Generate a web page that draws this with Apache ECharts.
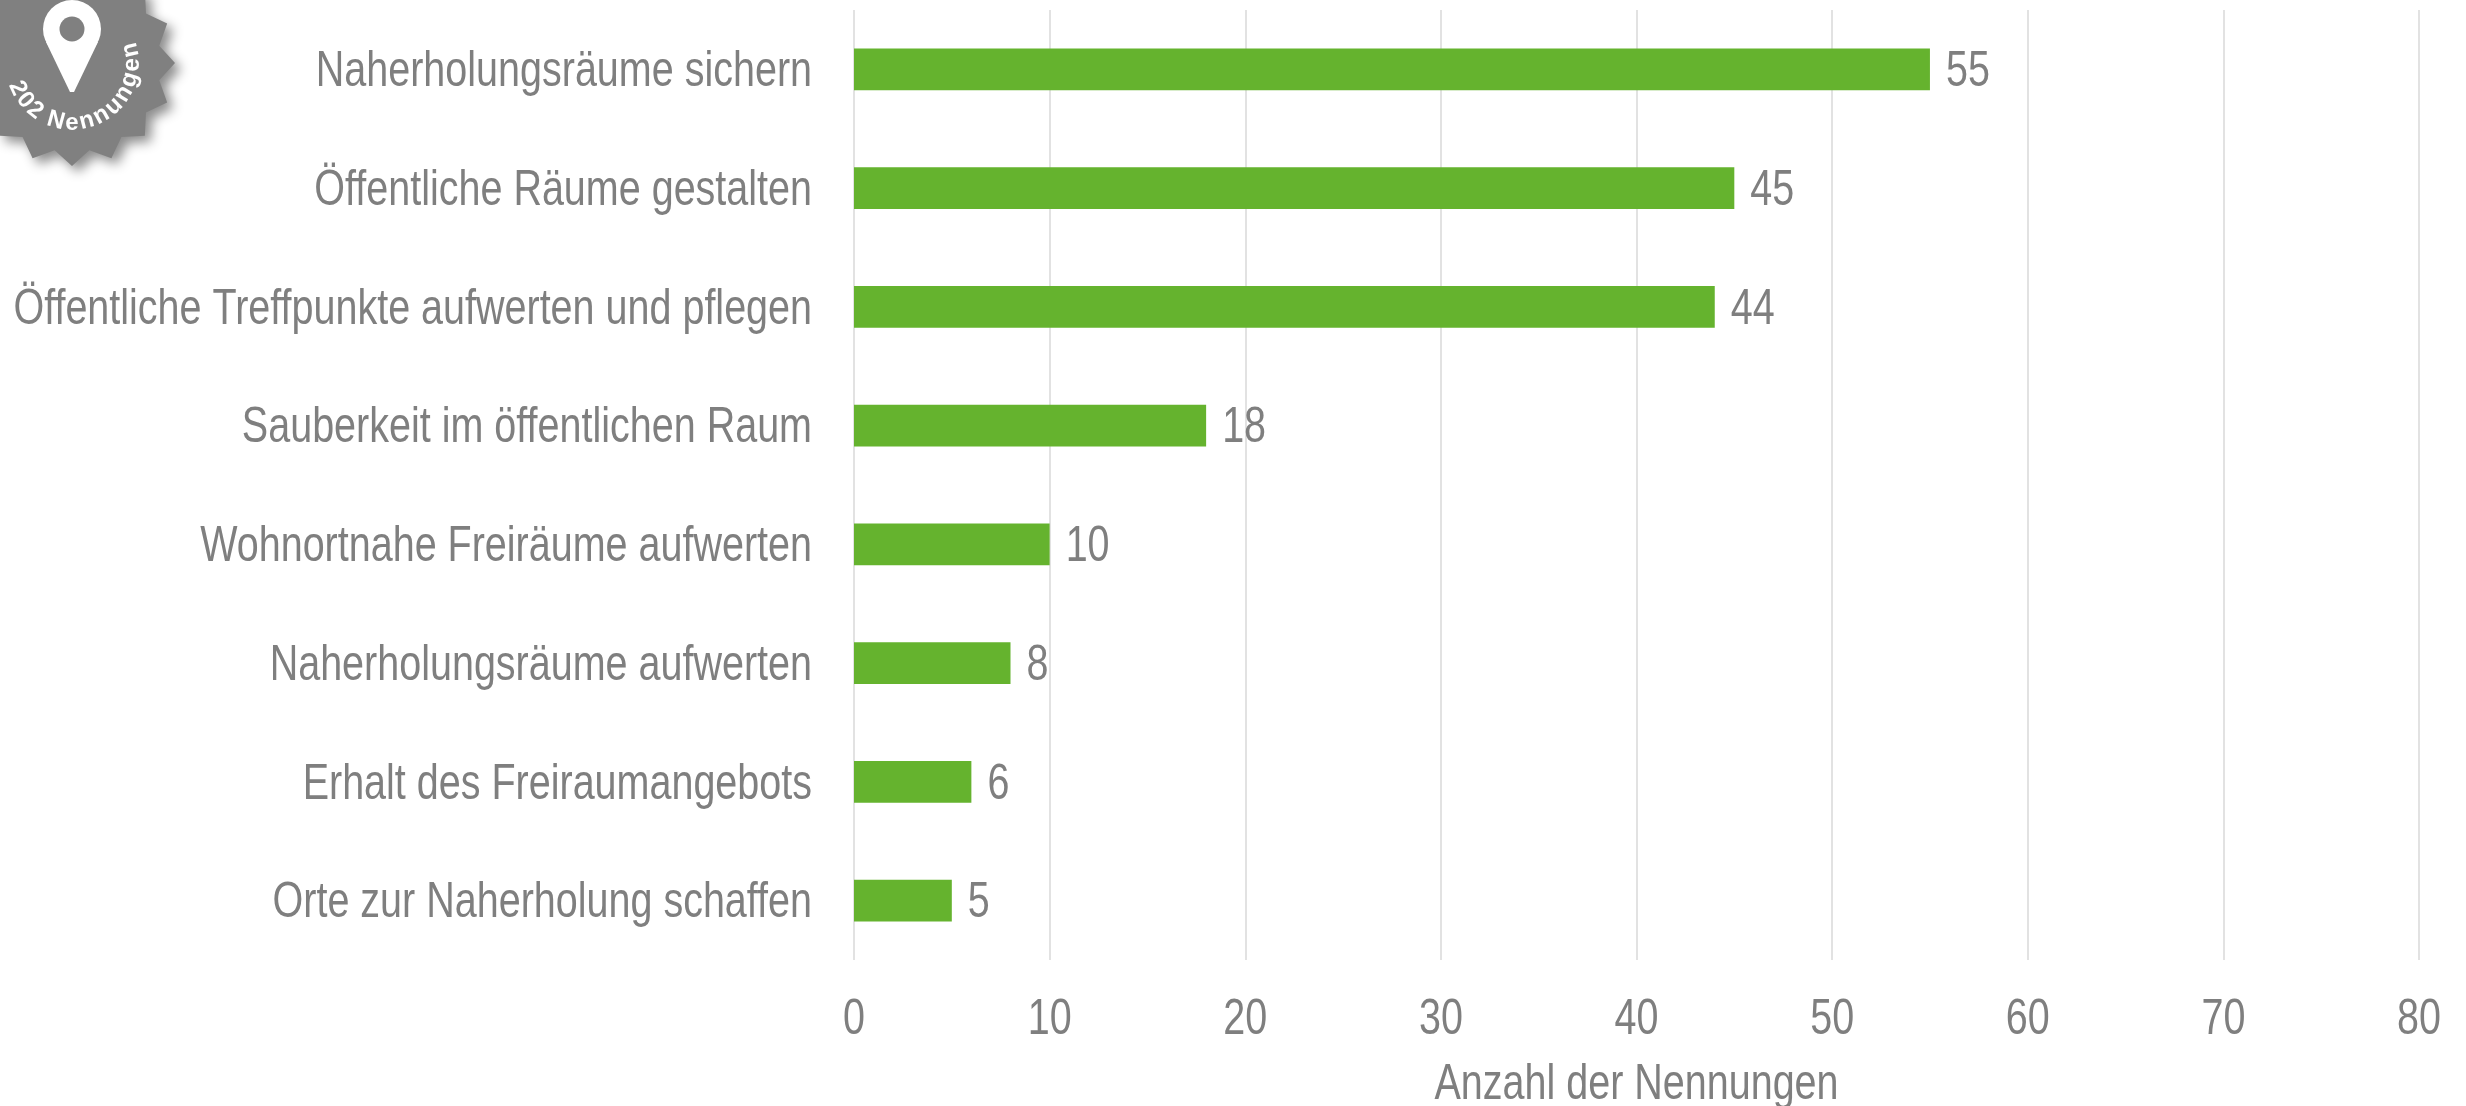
<!DOCTYPE html>
<html>
<head>
<meta charset="utf-8">
<style>
html, body { margin: 0; padding: 0; background: #fff; }
#chart { width: 2466px; height: 1106px; }
</style>
<script src="https://cdn.jsdelivr.net/npm/echarts@6/dist/echarts.min.js"></script>
</head>
<body>
<div id="chart"></div>
<script>
var categories = [
  'Naherholungsräume sichern',
  'Öffentliche Räume gestalten',
  'Öffentliche Treffpunkte aufwerten und pflegen',
  'Sauberkeit im öffentlichen Raum',
  'Wohnortnahe Freiräume aufwerten',
  'Naherholungsräume aufwerten',
  'Erhalt des Freiraumangebots',
  'Orte zur Naherholung schaffen'
]
var values = [55, 45, 44, 18, 10, 8, 6, 5]
var axisName = 'Anzahl der Nennungen'
var badgeText = '202 Nennungen'

var FONT = '"Liberation Sans", sans-serif'
var GREY = '#7f7f7f'
var FONT_SIZE = 50

// die Schrift im Original ist schmal gestaucht, eine Narrow-Schrift gibt es hier nicht
var NARROW = 0.79
var origFillText = CanvasRenderingContext2D.prototype.fillText
CanvasRenderingContext2D.prototype.fillText = function(text, x, y, maxWidth) {
  if (this.font.indexOf('bold') === 0) { // Badge-Text bleibt wie er ist
    origFillText.call(this, text, x, y)
    return
  }
  this.save()
  this.translate(x, y + 3)
  this.scale(NARROW, 1)
  origFillText.call(this, text, 0, 0)
  this.restore()
}

// gezackter Stern oben links
function badgePoints(cx, cy, outer, inner, teeth) {
  var pts = []
  for (var i = 0; i < teeth * 2; i++) {
    var r = i % 2 === 0 ? outer : inner
    var a = i * Math.PI / teeth
    pts.push([cx + r * Math.cos(a), cy + r * Math.sin(a)])
  }
  return pts
}

// Text auf dem Bogen, Buchstabe für Buchstabe
function badgeLetters(cx, cy, radius, startDeg, endDeg) {
  var ctx = document.createElement('canvas').getContext('2d')
  var font = 'bold 24px "Liberation Sans", sans-serif'
  ctx.font = font
  var total = ctx.measureText(badgeText).width
  var out = []
  var done = 0
  for (var i = 0; i < badgeText.length; i++) {
    var w = ctx.measureText(badgeText[i]).width
    var deg = startDeg + (endDeg - startDeg) * (done + w / 2) / total
    var t = deg * Math.PI / 180
    out.push({
      type: 'text',
      x: cx + radius * Math.sin(t),
      y: cy + radius * Math.cos(t),
      rotation: t,
      z: 12,
      style: { text: badgeText[i], fill: '#fff', font: font, align: 'center', verticalAlign: 'middle' }
    })
    done += w
  }
  return out
}

var chart = echarts.init(document.getElementById('chart'))
chart.setOption({
  animation: false,
  backgroundColor: '#fff',
  grid: { left: 854, right: 47, top: 10, bottom: 146, outerBoundsMode: 'none' },
  xAxis: {
    type: 'value',
    min: 0,
    max: 80,
    interval: 10,
    name: axisName,
    nameLocation: 'middle',
    nameGap: 97,
    nameTextStyle: { color: GREY, fontFamily: FONT, fontSize: FONT_SIZE },
    axisLine: { show: false },
    axisTick: { show: false },
    axisLabel: { color: GREY, fontFamily: FONT, fontSize: FONT_SIZE, margin: 32 },
    splitLine: { show: true, lineStyle: { color: '#e2e2e2', width: 2 } }
  },
  yAxis: {
    type: 'category',
    inverse: true,
    data: categories,
    axisLine: { show: false },
    axisTick: { show: false },
    axisLabel: { color: GREY, fontFamily: FONT, fontSize: FONT_SIZE, margin: 42 }
  },
  series: [
    {
      type: 'bar',
      data: values,
      barWidth: '35%',
      itemStyle: { color: '#65b32e' },
      label: { show: true, position: 'right', distance: 16, color: GREY, fontFamily: FONT, fontSize: FONT_SIZE }
    }
  ],
  graphic: {
    elements: [
      {
        type: 'polygon',
        z: 10,
        shape: { points: badgePoints(72, 63, 103, 89, 16) },
        style: { fill: '#808080', shadowColor: 'rgba(0,0,0,0.45)', shadowBlur: 12, shadowOffsetX: 6, shadowOffsetY: 6 }
      },
      { type: 'circle', z: 11, shape: { cx: 72, cy: 29, r: 29 }, style: { fill: '#fff' } },
      { type: 'polygon', z: 11, shape: { points: [[46, 42], [98, 42], [74, 92], [70, 92]] }, style: { fill: '#fff' } },
      { type: 'circle', z: 12, shape: { cx: 72, cy: 29, r: 12.5 }, style: { fill: '#808080' } }
    ].concat(badgeLetters(72, 63, 60, -72, 110))
  }
})
</script>
</body>
</html>
